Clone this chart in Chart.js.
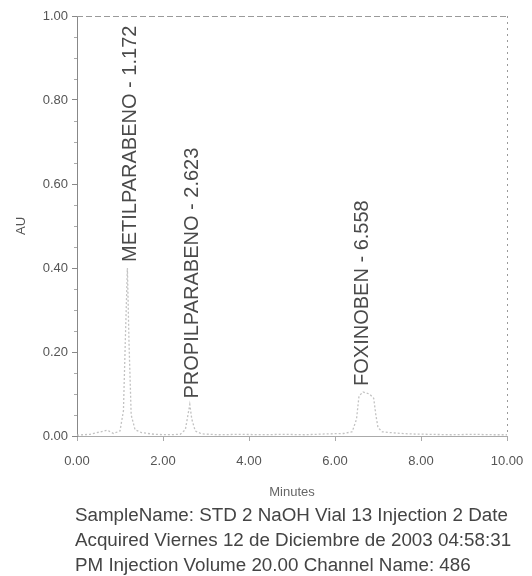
<!DOCTYPE html>
<html>
<head>
<meta charset="utf-8">
<script src="https://cdn.jsdelivr.net/npm/chart.js@4"></script>
<style>
  html, body { margin: 0; padding: 0; background: #fff; }
  #wrap { width: 532px; height: 576px; }
</style>
</head>
<body>
<div id="wrap"><canvas id="chrom" width="532" height="576"></canvas></div>
<script>
// cromatograma: tiempo (min) / absorbancia (AU)
const times = [0, 0.3, 0.55, 0.7, 0.85, 1.0, 1.08, 1.13, 1.172, 1.21, 1.26, 1.35, 1.5, 1.8, 2.1, 2.4, 2.52, 2.58, 2.623, 2.67, 2.75, 2.9, 3.3, 3.8, 4.3, 4.8, 5.3, 5.8, 6.2, 6.4, 6.5, 6.558, 6.65, 6.8, 6.9, 6.95, 7.0, 7.1, 7.3, 7.7, 8.2, 8.7, 9.2, 9.7, 10];
const absorb = [0.002, 0.004, 0.01, 0.014, 0.006, 0.012, 0.06, 0.25, 0.40, 0.22, 0.05, 0.015, 0.008, 0.004, 0.003, 0.004, 0.015, 0.05, 0.075, 0.04, 0.012, 0.005, 0.003, 0.004, 0.003, 0.004, 0.003, 0.005, 0.006, 0.01, 0.04, 0.095, 0.105, 0.10, 0.09, 0.05, 0.02, 0.01, 0.008, 0.005, 0.004, 0.003, 0.004, 0.003, 0.003];

// picos identificados
const peakNames = ['METILPARABENO', 'PROPILPARABENO', 'FOXINOBEN'];
const peakTimes = [1.172, 2.623, 6.558];
const peakHeights = [0.40, 0.075, 0.105];

const xTicks = [0, 2, 4, 6, 8, 10];
const yTicks = [0, 0.2, 0.4, 0.6, 0.8, 1.0];

const footerLines = [
    'SampleName: STD 2 NaOH Vial 13 Injection 2 Date',
    'Acquired Viernes 12 de Diciembre de 2003 04:58:31',
    'PM Injection Volume 20.00 Channel Name: 486'
];

const points = times.map((t, i) => ({ x: t, y: absorb[i] }));

// marco punteado arriba y a la derecha, y marcas menores del eje Y
const framePlugin = {
    id: 'frame',
    afterDraw(chart) {
        const { ctx, chartArea: a, scales } = chart;
        ctx.save();
        ctx.strokeStyle = '#9a9a9a';
        ctx.lineWidth = 1;
        ctx.setLineDash([6, 3]);
        ctx.beginPath();
        ctx.moveTo(a.left, a.top + 0.5);
        ctx.lineTo(a.right, a.top + 0.5);
        ctx.stroke();
        ctx.setLineDash([2, 4]);
        ctx.beginPath();
        ctx.moveTo(a.right + 0.5, a.top);
        ctx.lineTo(a.right + 0.5, a.bottom);
        ctx.stroke();
        ctx.setLineDash([]);
        ctx.strokeStyle = '#aaa';
        ctx.beginPath();
        for (let k = 1; k < 20; k++) {
            if (k % 4 === 0) continue;
            const y = Math.round(scales.y.getPixelForValue(k * 0.05)) + 0.5;
            ctx.moveTo(a.left - 3, y);
            ctx.lineTo(a.left, y);
        }
        ctx.stroke();
        ctx.restore();
    }
};

// etiquetas verticales de los picos
const peakLabelPlugin = {
    id: 'peakLabels',
    afterDatasetsDraw(chart) {
        const { ctx, scales } = chart;
        ctx.save();
        ctx.font = '20px "Liberation Sans", Arial, sans-serif';
        ctx.fillStyle = '#4a4a4a';
        ctx.textAlign = 'left';
        ctx.textBaseline = 'middle';
        peakNames.forEach((name, i) => {
            const x = scales.x.getPixelForValue(peakTimes[i]);
            const y = scales.y.getPixelForValue(peakHeights[i]) - 6;
            ctx.save();
            ctx.translate(x + 3, y);
            ctx.rotate(-Math.PI / 2);
            ctx.fillText(name + ' - ' + peakTimes[i].toFixed(3), 0, 0);
            ctx.restore();
        });
        ctx.restore();
    }
};

// texto del informe debajo del grafico
const footerPlugin = {
    id: 'footer',
    afterDraw(chart) {
        const { ctx } = chart;
        ctx.save();
        ctx.font = '18.8px "Liberation Sans", Arial, sans-serif';
        ctx.fillStyle = '#444';
        ctx.textAlign = 'left';
        ctx.textBaseline = 'middle';
        footerLines.forEach((line, i) => {
            ctx.fillText(line, 75, 516 + i * 25);
        });
        ctx.restore();
    }
};

const chromChart = new Chart(document.getElementById('chrom').getContext('2d'), {
    type: 'line',
    data: {
        datasets: [{
            label: 'AU',
            data: points,
            borderColor: '#c2c2c2',
            borderWidth: 1.3,
            borderDash: [2, 2],
            pointRadius: 0,
            tension: 0,
            fill: false
        }]
    },
    options: {
        responsive: false,
        animation: false,
        layout: { padding: { top: 16, right: 25, left: 0, bottom: 76 } },
        plugins: {
            legend: { display: false },
            tooltip: { enabled: false }
        },
        scales: {
            x: {
                type: 'linear',
                min: 0,
                max: 10,
                afterBuildTicks(scale) { scale.ticks = xTicks.map(v => ({ value: v })); },
                afterFit(scale) {
                    scale.height = 64;
                    scale.paddingRight = 0;
                    scale.paddingLeft = 0;
                },
                grid: { drawOnChartArea: false, tickLength: 5, color: '#aaa' },
                border: { color: '#aaa', dash: [3, 3] },
                ticks: {
                    color: '#555',
                    padding: 13,
                    maxRotation: 0,
                    font: { family: '"Liberation Sans", Arial, sans-serif', size: 13 },
                    callback: v => v.toFixed(2)
                },
                title: {
                    display: true,
                    text: 'Minutes',
                    color: '#666',
                    padding: { top: 6, bottom: 0 },
                    font: { family: '"Liberation Sans", Arial, sans-serif', size: 13 }
                }
            },
            y: {
                min: 0,
                max: 1,
                afterBuildTicks(scale) { scale.ticks = yTicks.map(v => ({ value: v })); },
                afterFit(scale) { scale.width = 77; },
                grid: { drawOnChartArea: false, tickLength: 5, color: '#888' },
                border: { color: '#888' },
                ticks: {
                    color: '#555',
                    padding: 4,
                    font: { family: '"Liberation Sans", Arial, sans-serif', size: 13 },
                    callback: v => v.toFixed(2)
                },
                title: {
                    display: true,
                    text: 'AU',
                    color: '#555',
                    padding: { top: 14, bottom: 0 },
                    font: { family: '"Liberation Sans", Arial, sans-serif', size: 13 }
                }
            }
        }
    },
    plugins: [framePlugin, peakLabelPlugin, footerPlugin]
});
</script>
</body>
</html>
